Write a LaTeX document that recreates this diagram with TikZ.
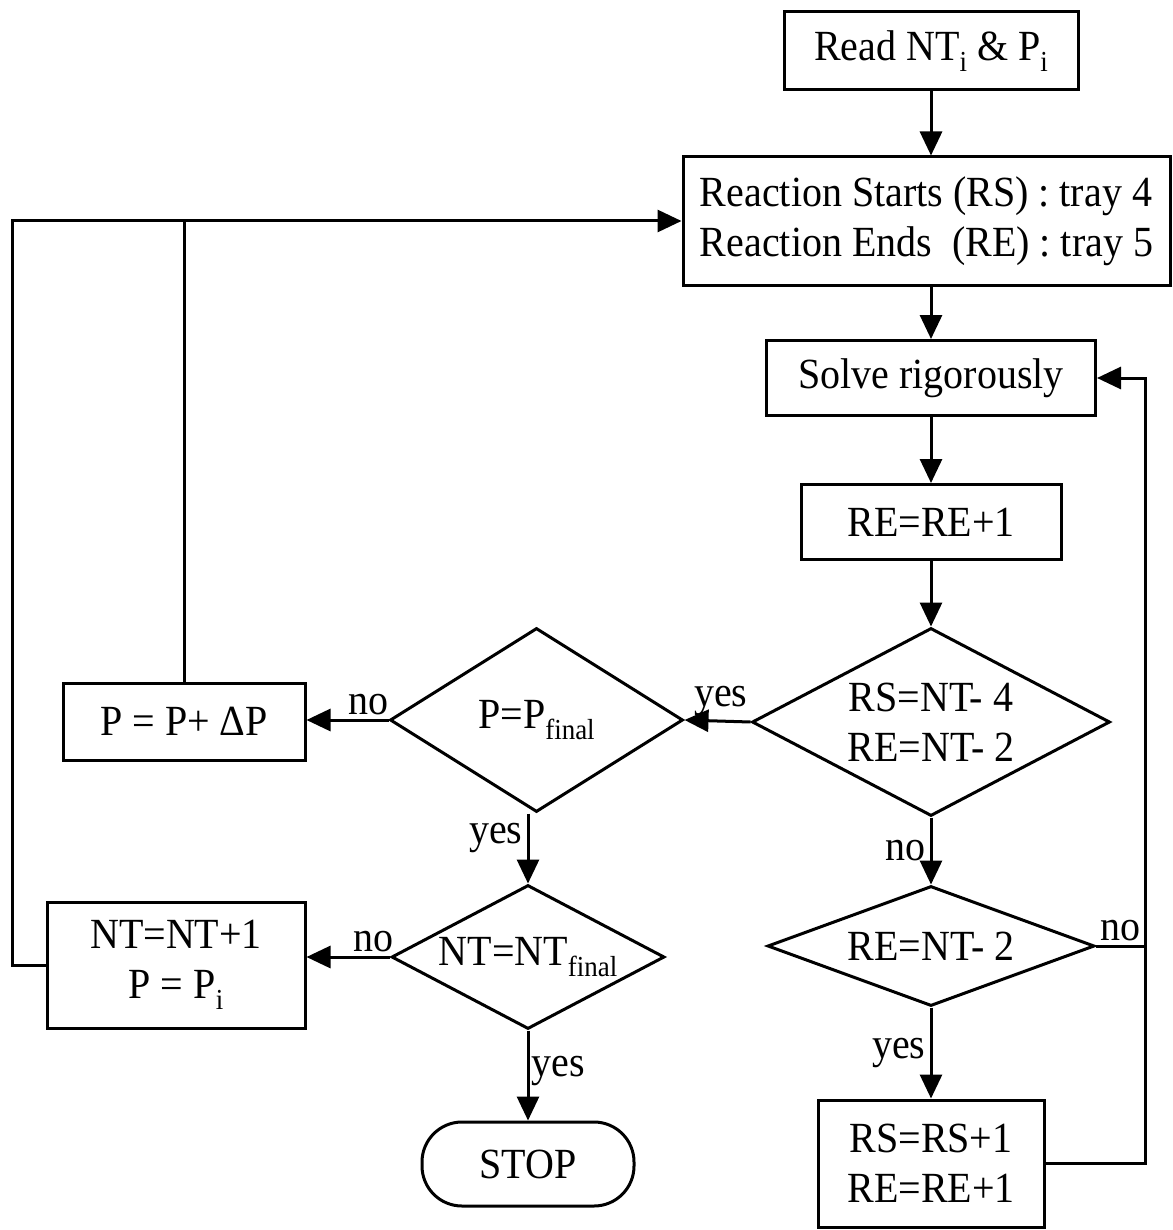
\documentclass[tikz,border=0pt]{standalone}
\usepackage{fontspec}
\setmainfont[FakeStretch=0.93]{Liberation Serif}
\usetikzlibrary{shapes.geometric,arrows.meta}
\newcommand\mysub[1]{\raisebox{-0.25em}{\fontsize{14.5}{14.5}\selectfont #1}}
\begin{document}
\begin{tikzpicture}[x=0.5pt,y=-0.5pt,
  every node/.style={font=\fontsize{21.5}{25}\selectfont},
  box/.style={draw,line width=1.5pt,inner sep=0pt,align=center},
  dia/.style={draw,diamond,line width=1.5pt,inner sep=0pt},
  term/.style={draw,line width=1.5pt,rounded corners=20pt,inner sep=0pt},
  arr/.style={line width=1.5pt,-{Triangle[length=12pt,width=11pt]}},
  ln/.style={line width=1.5pt},
  lab/.style={inner sep=2pt}
]
\useasboundingbox (0,0) rectangle (1172,1230);

% boxes
\node[box,minimum width=147pt,minimum height=39pt] (read) at (931,51) {Read NT\mysub{i} \& P\mysub{i}};
\node[box,minimum width=243.5pt,minimum height=64pt,align=left] (react) at (926.5,221)
  {Reaction Starts (RS) : tray 4\\Reaction Ends\ \ (RE) : tray 5};
\node[box,minimum width=164.5pt,minimum height=37.5pt] (solve) at (931,378) {Solve rigorously};
\node[box,minimum width=130pt,minimum height=37.5pt] (re1) at (931,522) {RE=RE+1};
\node[box,minimum width=113pt,minimum height=63.5pt] (rsbox) at (931,1163.5) {RS=RS+1\\RE=RE+1};
\node[box,minimum width=121pt,minimum height=38.5pt] (ppbox) at (184,721.5) {P = P+ ΔP};
\node[box,minimum width=129pt,minimum height=63pt] (ntbox) at (176,965) {NT=NT+1\\P = P\mysub{i}};
\node[term,minimum width=106pt,minimum height=42pt] (stop) at (528,1164) {STOP};

% diamonds
\node[dia,minimum width=179pt,minimum height=94pt] (d1) at (931,722) {};
\node[align=center] (d1t) at (d1) {RS=NT- 4\\RE=NT- 2};
\node[dia,minimum width=163.5pt,minimum height=60pt] (d2) at (931,946) {};
\node (d2t) at (d2) {RE=NT- 2};
\node[dia,minimum width=146.5pt,minimum height=92pt] (dp) at (536.5,720) {};
\node (dpt) at (dp) {P=P\mysub{final}};
\node[dia,minimum width=136.5pt,minimum height=72pt] (dn) at (528,957) {};
\node (dnt) at (dn) {NT=NT\mysub{final}};

% connectors
\coordinate (rx) at (1145,0);
\coordinate (lx) at (12,0);
\draw[arr] (read.south) -- (read.south |- react.north);
\draw[arr] (solve.north |- react.south) -- (solve.north);
\draw[arr] (solve.south) -- (re1.north);
\draw[arr] (re1.south) -- (d1.north);
\draw[arr] (d1.west) -- node[lab,above,pos=0.45]{yes} (dp.east);
\draw[arr] (dp.west) -- node[lab,above,pos=0.25]{no} (dp.west -| ppbox.east);
\draw[arr] (dn.north |- dp.south) -- node[lab,left,pos=0.35]{yes} (dn.north);
\draw[arr] (dn.west) -- node[lab,above,pos=0.2]{no} (dn.west -| ntbox.east);
\draw[arr] (dn.south) -- node[lab,right,pos=0.45,inner sep=1pt]{yes} (stop.north);
\draw[arr] (d1.south) -- node[lab,left,pos=0.5]{no} (d2.north);
\draw[arr] (d2.south) -- node[lab,left,pos=0.5]{yes} (rsbox.north);
\draw[ln] (d2.east) -- node[lab,above,pos=0.5]{no} (d2.east -| rx);
\draw[arr] (rsbox.east) -- (rsbox.east -| rx) -- (solve.east -| rx) -- (solve.east);
\draw[ln] (ppbox.north) -- (ppbox.north |- react.west);
\draw[arr] (ntbox.west) -- (ntbox.west -| lx) -- (lx |- react.west) -- (react.west);
\end{tikzpicture}
\end{document}
